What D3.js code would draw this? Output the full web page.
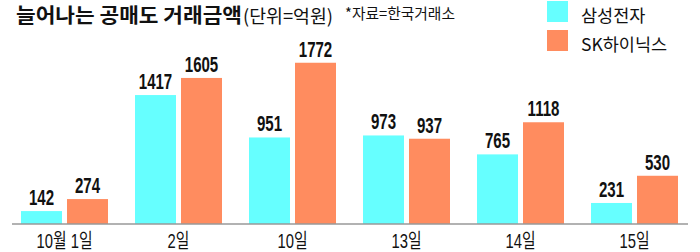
<!DOCTYPE html>
<html><head><meta charset="utf-8">
<script src="https://cdn.jsdelivr.net/npm/d3@7"></script>
<style>
html,body{margin:0;padding:0;background:#fff;}
svg{display:block;}
</style></head>
<body>
<svg id="chart" width="700" height="252"></svg>
<script>
const categories = ["10월 1일", "2일", "10일", "13일", "14일", "15일"];
const seriesNames = ["삼성전자", "SK하이닉스"];
const samsung = [142, 1417, 951, 973, 765, 231];
const hynix = [274, 1605, 1772, 937, 1118, 530];
const colors = ["#66ffff", "#ff8c5f"];
const titleText = "늘어나는 공매도 거래금액";
const unitText = "(단위=억원)";
const sourceText = "*자료=한국거래소";

const svg = d3.select("#chart");
const latin = "'Liberation Sans', 'Noto Sans CJK KR', sans-serif";
const kr = "'Noto Sans CJK KR', 'Liberation Sans', sans-serif";

const x0 = d3.scaleBand().domain(categories).range([-6, 705]).padding(27/114);
const x1 = d3.scaleBand().domain(seriesNames).range([0, x0.bandwidth()]).paddingInner(0.1087).paddingOuter(0);
const y = d3.scaleLinear().domain([0, 2000]).range([224, 42]);

const rows = categories.map((c, i) => ({cat: c, vals: [samsung[i], hynix[i]]}));

const groups = svg.append("g").selectAll("g").data(rows).join("g")
  .attr("transform", d => `translate(${x0(d.cat)},0)`);

groups.selectAll("rect").data(d => d.vals.map((v, j) => ({v, s: seriesNames[j], j})))
  .join("rect")
  .attr("x", d => x1(d.s))
  .attr("y", d => y(d.v))
  .attr("width", x1.bandwidth())
  .attr("height", d => y(0) - y(d.v))
  .attr("fill", d => colors[d.j]);

groups.selectAll("text.val").data(d => d.vals.map((v, j) => ({v, s: seriesNames[j], j})))
  .join("text")
  .attr("class", "val")
  .attr("transform", d => `translate(${x1(d.s) + x1.bandwidth()/2},${y(d.v) - 6}) scale(0.7,1)`)
  .attr("text-anchor", "middle")
  .style("font-family", latin)
  .style("font-weight", "bold")
  .style("font-size", "21.5px")
  .attr("fill", "#111")
  .text(d => d.v);

// baseline
svg.append("line").attr("x1", 12).attr("x2", 688).attr("y1", y(0)).attr("y2", y(0))
  .attr("stroke", "#999").attr("stroke-width", 1.5);

// x axis labels
const xAxis = d3.axisBottom(x0).tickSize(0).tickPadding(0);
const ax = svg.append("g").attr("transform", `translate(0,${y(0)})`).call(xAxis);
ax.select(".domain").remove();
ax.selectAll("text")
  .attr("y", 24.5).attr("dy", 0)
  .attr("transform", "scale(0.74,1)")
  .style("font-family", latin)
  .style("font-size", "20px")
  .attr("fill", "#111");

// title
svg.append("text").attr("x", 16).attr("y", 23.3)
  .attr("textLength", 226).attr("lengthAdjust", "spacingAndGlyphs")
  .style("font-family", kr).style("font-weight", "bold").style("font-size", "20px")
  .attr("fill", "#111").text(titleText);
svg.append("text").attr("x", 243).attr("y", 23.3)
  .attr("textLength", 90).attr("lengthAdjust", "spacingAndGlyphs")
  .style("font-family", kr).style("font-size", "18.5px")
  .attr("fill", "#111").text(unitText);
svg.append("text").attr("x", 345).attr("y", 18.5)
  .attr("textLength", 110).attr("lengthAdjust", "spacingAndGlyphs")
  .style("font-family", kr).style("font-size", "15px")
  .attr("fill", "#111").text(sourceText);

// legend
const leg = svg.append("g").selectAll("g").data(seriesNames).join("g")
  .attr("transform", (d, i) => `translate(547,${1 + i * 29})`);
leg.append("rect").attr("width", 21).attr("height", 21).attr("fill", (d, i) => colors[i]);
leg.append("text").attr("x", 34).attr("y", 20.5)
  .style("font-family", kr).style("font-size", "17.5px")
  .attr("fill", "#111").text(d => d);
</script>
</body></html>
